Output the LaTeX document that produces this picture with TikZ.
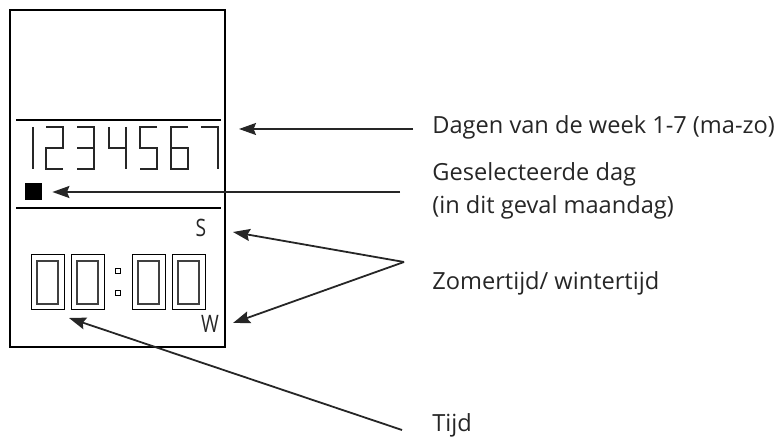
\documentclass[tikz,border=0pt]{standalone}
\usepackage{fontspec}
\setmainfont{Open Sans}
\usetikzlibrary{arrows.meta, positioning}

\tikzset{
  lcd/.style = {line width=0.8pt, black!85},
  lcdletter/.style = {font=\fontsize{12}{12}\selectfont, xscale=0.8, text=black!85},
  infotext/.style = {anchor=west, inner sep=0pt, font=\fontsize{11.8}{16.5}\selectfont, text=black!85},
  pijl/.style = {-{Stealth[length=8.5pt, width=6pt, inset=1.2pt]}, line width=0.9pt, black!85},
}

\begin{document}
\begin{tikzpicture}[x=0.5pt, y=-0.5pt]
	\useasboundingbox (0,0) rectangle (781,437);

	% display
	\draw[line width=0.6pt] (10,10) rectangle (225,347);
	\draw[line width=1pt] (16,120) -- (221,120);
	\draw[line width=1pt] (16,208) -- (221,208);

	% days 1..7
	\draw[lcd] (33,127) -- (33,169);
	\draw[lcd] (46,127) -- (63,127) -- (63,148) -- (46,148) -- (46,169) -- (63,169);
	\draw[lcd] (77,127) -- (94,127) -- (94,169) -- (77,169) (77,148) -- (94,148);
	\draw[lcd] (109,127) -- (109,148) -- (126,148) (126,127) -- (126,169);
	\draw[lcd] (157,127) -- (140,127) -- (140,148) -- (157,148) -- (157,169) -- (140,169);
	\draw[lcd] (188,127) -- (171,127) -- (171,169) -- (188,169) -- (188,148) -- (171,148);
	\draw[lcd] (201,127) -- (218,127) -- (218,169);

	\node[fill=black, minimum size=8.5pt, inner sep=0pt] (dag) at (33.5,192) {};

	% time 00:00
	\foreach \x in {31,71,132,172} {
		\draw[line width=0.5pt] (\x,255) rectangle ++(33,55);
		\draw[line width=0.7pt, black!75] (\x+6,261) rectangle ++(21,43);
	}
	\draw[line width=0.5pt] (115,269) rectangle ++(5,5);
	\draw[line width=0.5pt] (115,291) rectangle ++(5,5);

	\node[lcdletter] (zomer) at (201,228) {S};
	\node[lcdletter] (winter) at (210,324) {W};

	% texts
	\node[infotext] (dagen) at (432,127) {Dagen van de week 1-7 (ma-zo)};
	\node[infotext, align=left] (gekozen) at (432,191) {Geselecteerde dag\\(in dit geval maandag)};
	\node[infotext] (zomerwinter) at (432,283) {Zomertijd/ wintertijd};
	\node[infotext] (tijd) at (432,425) {Tijd};

	% arrows
	\coordinate (dagenstart) at (413,129);
	\coordinate (dagentip) at (239,129);
	\coordinate (gekozenstart) at (400,192);
	\coordinate (splits) at (404,262);
	\coordinate (zomertip) at (233,232);
	\coordinate (wintertip) at (233,323);
	\coordinate (tijdstart) at (402,430);
	\coordinate (tijdtip) at (69,318);

	\draw[pijl] (dagenstart) -- (dagentip);
	\draw[pijl] (gekozenstart) -- ([xshift=5pt]dag.east);
	\draw[pijl] (splits) -- (zomertip);
	\draw[pijl] (splits) -- (wintertip);
	\draw[pijl] (tijdstart) -- (tijdtip);
\end{tikzpicture}
\end{document}
